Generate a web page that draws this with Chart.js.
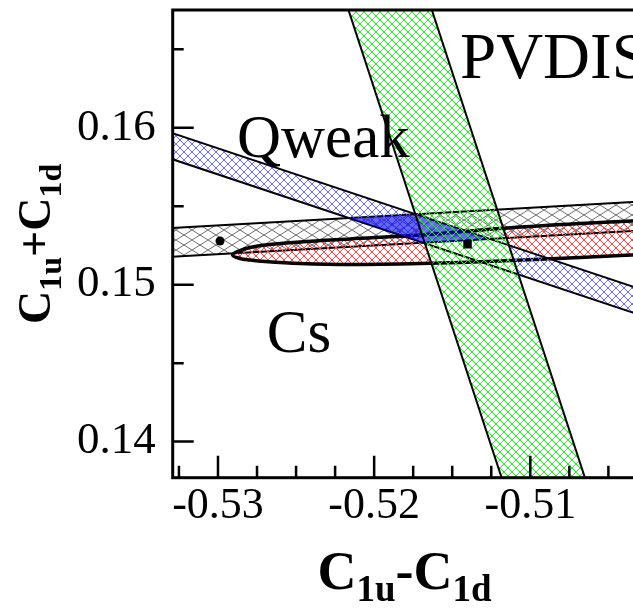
<!DOCTYPE html>
<html><head><meta charset="utf-8">
<script src="https://cdn.jsdelivr.net/npm/chart.js@4.4.0/dist/chart.umd.min.js"></script>
<style>
html,body{margin:0;padding:0;overflow:hidden;background:#fff;width:633px;height:608px}
#wrap{position:absolute;left:0;top:0;width:650px;height:608px}
</style></head><body><div id="wrap"><canvas id="c" width="650" height="608"></canvas></div>
<script>
// ---- axes ----
const xRange = [-0.5329, -0.5032];
const yRange = [0.1377, 0.1675];
const xTickLabels = [-0.53, -0.52, -0.51];
const xMinorTicks = [-0.5325, -0.5275, -0.525, -0.5225, -0.5175, -0.515, -0.5125, -0.5075, -0.505];
const yTickLabels = [0.14, 0.15, 0.16];
const yMinorTicks = [0.145, 0.155, 0.165];

// ---- shapes (C1u-C1d, C1u+C1d) ----
const pvdisBand = [[-0.522273,0.169412],[-0.511160,0.135640],[-0.505826,0.135640],[-0.516932,0.169412]];
const qweakBand = [[-0.534994,0.160338],[-0.497851,0.148021],[-0.497851,0.146364],[-0.534994,0.158681]];
const apvBand   = [[-0.534354,0.153528],[-0.497851,0.155578],[-0.497851,0.153726],[-0.534354,0.151699]];
const overlapRegion = [[-0.521610,0.154246],[-0.517338,0.154482],[-0.512593,0.152908],[-0.516871,0.152672]];
const csEllipse = [
 [-0.497851,0.154310],[-0.502334,0.154119],[-0.506817,0.153895],[-0.511940,0.153577],[-0.517063,0.153163],
 [-0.521546,0.152908],[-0.524748,0.152717],[-0.526989,0.152526],[-0.527950,0.152366],[-0.528590,0.152175],
 [-0.529070,0.151889],
 [-0.528590,0.151666],[-0.527950,0.151570],[-0.526989,0.151474],[-0.524748,0.151347],[-0.521546,0.151283],
 [-0.517063,0.151347],[-0.511940,0.151506],[-0.506817,0.151729],[-0.502334,0.151952],[-0.497851,0.152207]
];
const smDot = [[-0.52987,0.152781]];
const smSquare = [[-0.51402,0.152577]];

const shapeLabels = [
  {text:'PVDIS', x:-0.514501, y:0.163148},
  {text:'Qweak', x:-0.528782, y:0.158133},
  {text:'Cs',    x:-0.526880, y:0.145727}
];

const xTitle = [['C',0],['1u',1],['-',0],['C',0],['1d',1]];
const yTitle = [['C',0],['1u',1],['+',0],['C',0],['1d',1]];

function pts(a){ return a.map(p=>({x:p[0], y:p[1]})); }

function hatch(color, w, h, lw){
  const c = document.createElement('canvas'); c.width = w; c.height = h;
  const g = c.getContext('2d');
  g.strokeStyle = color; g.lineWidth = lw;
  g.beginPath();
  for (const dx of [-w, 0, w]) {
    g.moveTo(dx, 0); g.lineTo(dx + w, h);
    g.moveTo(dx + w, 0); g.lineTo(dx, h);
  }
  g.stroke();
  return g.createPattern(c, 'repeat');
}

const SERIF = '"Liberation Serif", "Times New Roman", serif';

function drawTitle(ctx, parts, cx, cy, rot, M, S, off){
  const mainF = 'bold ' + M + 'px ' + SERIF, subF = 'bold ' + S + 'px ' + SERIF;
  let total = 0;
  const widths = parts.map(p => { ctx.font = p[1] ? subF : mainF; const w = ctx.measureText(p[0]).width; total += w; return w; });
  ctx.save();
  ctx.translate(cx, cy);
  ctx.rotate(rot);
  ctx.fillStyle = '#000';
  ctx.textBaseline = 'alphabetic';
  ctx.textAlign = 'left';
  let x = -total / 2;
  parts.forEach((p, i) => {
    ctx.font = p[1] ? subF : mainF;
    ctx.fillText(p[0], x, p[1] ? off : 0);
    x += widths[i];
  });
  ctx.restore();
}

const decor = {
  id: 'decor',
  afterDraw(chart){
    const {ctx, chartArea: a, scales: {x, y}} = chart;
    ctx.save();
    ctx.fillStyle = '#000';
    ctx.textBaseline = 'alphabetic';
    ctx.textAlign = 'left';
    const sizes = {PVDIS: 65, Qweak: 61, Cs: 61};
    shapeLabels.forEach(l => {
      ctx.font = sizes[l.text] + 'px ' + SERIF;
      ctx.fillText(l.text, x.getPixelForValue(l.x), y.getPixelForValue(l.y));
    });
    ctx.strokeStyle = '#000';
    ctx.lineWidth = 2.5;
    ctx.beginPath();
    xTickLabels.forEach(v => { const p = x.getPixelForValue(v); ctx.moveTo(p, a.bottom); ctx.lineTo(p, a.bottom - 22); });
    xMinorTicks.forEach(v => { const p = x.getPixelForValue(v); ctx.moveTo(p, a.bottom); ctx.lineTo(p, a.bottom - 12); });
    yTickLabels.forEach(v => { const p = y.getPixelForValue(v); ctx.moveTo(a.left, p); ctx.lineTo(a.left + 21, p); });
    yMinorTicks.forEach(v => { const p = y.getPixelForValue(v); ctx.moveTo(a.left, p); ctx.lineTo(a.left + 11, p); });
    ctx.stroke();
    ctx.lineWidth = 3;
    ctx.strokeRect(a.left, a.top, a.right - a.left, a.bottom - a.top);
    ctx.restore();
    drawTitle(ctx, xTitle, (a.left + a.right) / 2, 589, 0, 54, 37, 12);
    drawTitle(ctx, yTitle, 50, (a.top + a.bottom) / 2, -Math.PI / 2, 46, 32, 11);
  }
};

const common = {fill: 'shape', pointRadius: 0, borderColor: '#000', tension: 0, clip: 0};

new Chart(document.getElementById('c'), {
  type: 'line',
  data: {
    datasets: [
      Object.assign({}, common, {label:'SM', data: pts(smDot), showLine:false, fill:false, pointRadius:4.5, pointStyle:'circle', pointBackgroundColor:'#000', pointBorderWidth:0, order:0}),
      Object.assign({}, common, {label:'SM2', data: pts(smSquare), showLine:false, fill:false, pointRadius:6, pointStyle:'rect', pointBackgroundColor:'#000', pointBorderWidth:0, order:1}),
      Object.assign({}, common, {label:'PVDIS', data: pts(pvdisBand), backgroundColor: hatch('rgb(40,235,40)', 8, 8, 1), borderWidth: 2, order:2}),
      Object.assign({}, common, {label:'overlap', data: pts(overlapRegion), backgroundColor: 'rgba(0,0,230,0.6)', borderColor:'rgba(0,0,0,0)', borderWidth: 0, order:3}),
      Object.assign({}, common, {label:'Qweak', data: pts(qweakBand), backgroundColor: hatch('rgb(110,110,255)', 8, 8, 1), borderWidth: 2, order:4}),
      Object.assign({}, common, {label:'Cs', data: pts(csEllipse), backgroundColor: hatch('rgb(255,70,70)', 8, 8, 1), borderWidth: 3.5, tension: 0.35, order:5}),
      Object.assign({}, common, {label:'APV', data: pts(apvBand), backgroundColor: hatch('rgb(110,110,110)', 16, 10, 1), borderWidth: 2, order:6})
    ]
  },
  options: {
    responsive: false,
    animation: false,
    events: [],
    devicePixelRatio: 1,
    layout: {padding: {top: 10, right: 13.5, left: 0, bottom: 0}},
    elements: {line: {capBezierPoints: false}},
    plugins: {legend: {display: false}, tooltip: {enabled: false}},
    scales: {
      x: {
        type: 'linear', min: xRange[0], max: xRange[1],
        afterBuildTicks: s => { s.ticks = xTickLabels.map(v => ({value: v})); },
        afterFit: s => { s.height = 608 - 477.7; s.paddingLeft = 0; s.paddingRight = 0; },
        grid: {display: false, drawTicks: false}, border: {display: false},
        ticks: {font: {family: SERIF, size: 44}, color: '#000', padding: 2, maxRotation: 0, autoSkip: false,
                callback: v => Number(v).toFixed(2)}
      },
      y: {
        type: 'linear', min: yRange[0], max: yRange[1],
        afterBuildTicks: s => { s.ticks = yTickLabels.map(v => ({value: v})); },
        afterFit: s => { s.width = 172.7; s.paddingTop = 0; s.paddingBottom = 0; },
        grid: {display: false, drawTicks: false}, border: {display: false},
        ticks: {font: {family: SERIF, size: 45}, color: '#000', padding: 17, autoSkip: false,
                callback: v => Number(v).toFixed(2)}
      }
    }
  },
  plugins: [decor]
});
</script></body></html>
